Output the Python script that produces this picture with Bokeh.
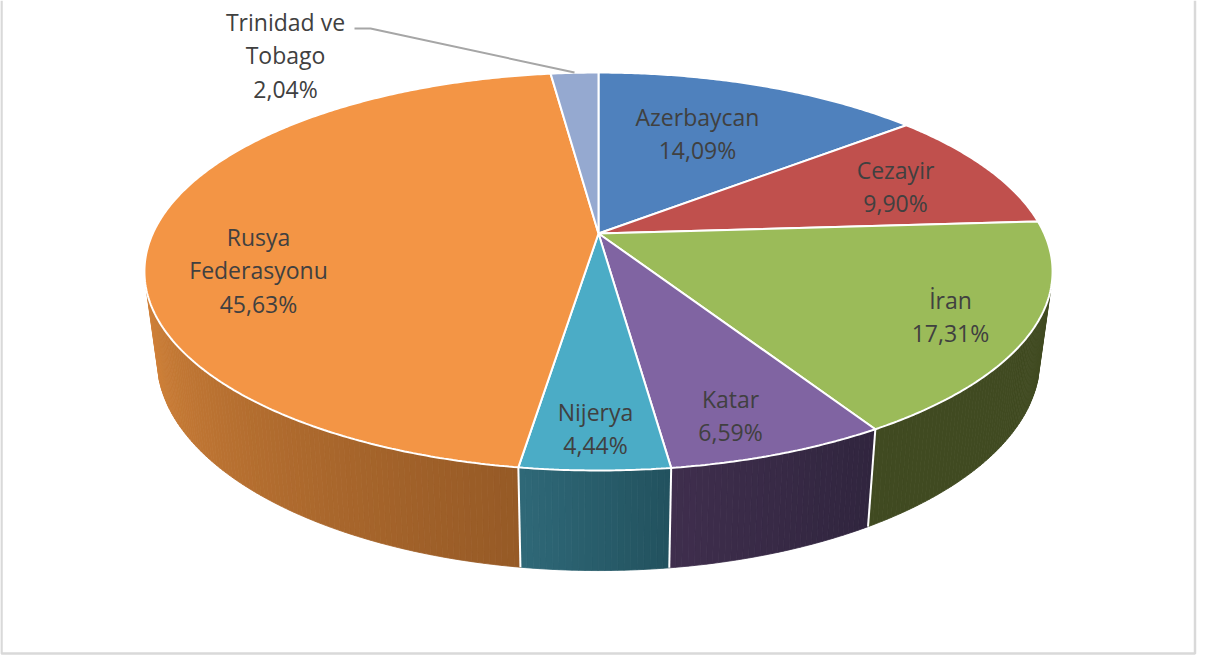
import numpy as np
from bokeh.plotting import figure
from bokeh.models import Range1d
from bokeh.core.properties import value
from bokeh.embed import file_html
from bokeh.resources import INLINE

# --- data ---
categories = ["Azerbaycan", "Cezayir", "İran", "Katar", "Nijerya", "Rusya Federasyonu", "Trinidad ve Tobago"]
shares = [14.09, 9.90, 17.31, 6.59, 4.44, 45.63, 2.04]
share_labels = ["14,09%", "9,90%", "17,31%", "6,59%", "4,44%", "45,63%", "2,04%"]

# --- style / layout ---
top_colors = ["#4F81BD", "#C0504D", "#9BBB59", "#8064A2", "#4BACC6", "#F39545", "#95A9D0"]
wall_left = [None, None, (64, 74, 33), (63, 46, 77), (47, 104, 120), (207, 128, 56), None]
wall_right = [None, None, (64, 74, 33), (48, 37, 62), (34, 82, 94), (150, 90, 38), None]
label_lines = [["Azerbaycan"], ["Cezayir"], ["İran"], ["Katar"], ["Nijerya"], ["Rusya", "Federasyonu"], ["Trinidad ve", "Tobago"]]
label_pos = [(705, 124), (903, 177), (958, 307), (738, 406), (603, 419), (266, 244), (293, 29)]
LINE_H = 33.5
FONT = value("Open Sans")
W, H = 1197, 655
CX = 606
TOP = dict(y0=241.0, a=191.7, b=445.7, k=0.191)
BOT = dict(y0=326.5, a=203.0, b=433.0, k=0.193)
VIS_START, VIS_END = 106.0, 254.0


def project(theta_deg, g):
    t = np.radians(theta_deg)
    u, v = np.sin(t), np.cos(t)
    d = 1 + g["k"] * v
    return CX + g["b"] * u / d, g["y0"] - g["a"] * v / d


p = figure(width=W, height=H, x_range=Range1d(8, 8 + W), y_range=Range1d(8 + H, 8),
           output_backend="svg", toolbar_location=None, min_border=0, outline_line_color=None,
           background_fill_color="white", border_fill_color="white")
p.axis.visible = False
p.grid.visible = False

# frame
p.line([9, 9, 1202.5, 1202.5], [8, 661, 661, 8], line_color="#D9D9D9", line_width=2.5)

edges = np.concatenate([[0.0], np.cumsum(shares)]) / 100.0 * 360.0

# walls
for i in range(len(shares)):
    a0, a1 = max(edges[i], VIS_START), min(edges[i + 1], VIS_END)
    if a1 <= a0 or wall_left[i] is None:
        continue
    n = max(4, int((a1 - a0) * 1.5))
    th = np.linspace(a0, a1, n + 1)
    for j in range(n):
        # th grows -> x moves leftwards, so right colour is at a0 side
        f = (j + 0.5) / n
        c = [int(round(r + (l - r) * f)) for l, r in zip(wall_left[i], wall_right[i])]
        tt = np.array([th[j], th[j + 1]])
        xt, yt = project(tt, TOP)
        xb, yb = project(tt, BOT)
        col = "#%02x%02x%02x" % tuple(c)
        p.patch(list(xt) + list(xb[::-1]), list(yt) + list(yb[::-1]),
                fill_color=col, line_color=col, line_width=0.8)

# wall separators
for e in edges[1:-1]:
    if VIS_START < e < VIS_END:
        xt, yt = project(e, TOP)
        xb, yb = project(e, BOT)
        p.line([xt, xb], [yt, yb], line_color="white", line_width=2)

# tops
for i in range(len(shares)):
    th = np.linspace(edges[i], edges[i + 1], max(8, int((edges[i + 1] - edges[i]) * 2)))
    x, y = project(th, TOP)
    xs = [CX] + list(x)
    ys = [TOP["y0"]] + list(y)
    p.patch(xs, ys, fill_color=top_colors[i], line_color="white", line_width=2)

# leader
p.line([362, 378, 582], [36, 36, 80], line_color="#A6A6A6", line_width=2)

# labels
tx, ty, tt = [], [], []
for lines, (lx, ly), pct in zip(label_lines, label_pos, share_labels):
    for k, s in enumerate(list(lines) + [pct]):
        tx.append(lx)
        ty.append(ly + k * LINE_H)
        tt.append(s)
p.text(tx, ty, text=tt, text_font=FONT, text_font_size="23px", text_color="#404040",
       text_align="center", text_baseline="middle")

open("out.html", "w").write(file_html(p, INLINE))
